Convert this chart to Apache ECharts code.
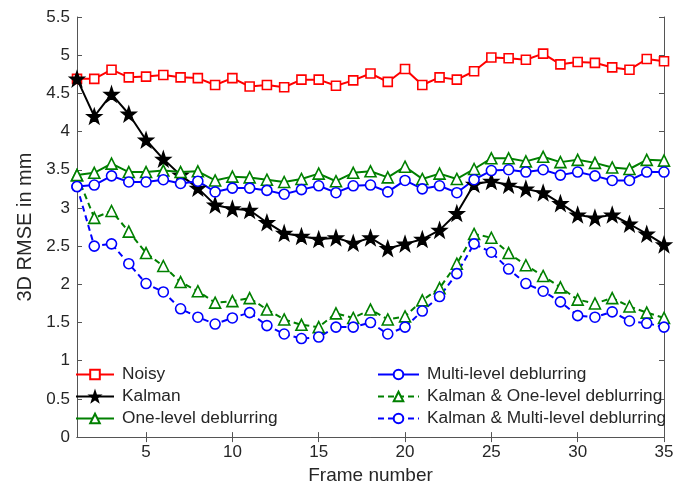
<!DOCTYPE html>
<html><head><meta charset="utf-8">
<script src="https://cdn.jsdelivr.net/npm/echarts@6/dist/echarts.min.js"></script>
<style>html,body{margin:0;padding:0;background:#fff}#c{width:687px;height:490px}</style>
</head><body><div id="c"></div>
<script>
const frames = [1,2,3,4,5,6,7,8,9,10,11,12,13,14,15,16,17,18,19,20,21,22,23,24,25,26,27,28,29,30,31,32,33,34,35];
const noisy = [4.69,4.69,4.81,4.71,4.72,4.74,4.71,4.70,4.61,4.70,4.59,4.61,4.58,4.68,4.68,4.60,4.67,4.76,4.65,4.82,4.61,4.71,4.68,4.79,4.97,4.96,4.94,5.02,4.88,4.91,4.90,4.84,4.81,4.95,4.92];
const kalman = [4.69,4.20,4.49,4.23,3.89,3.64,3.43,3.26,3.04,2.99,2.97,2.81,2.67,2.63,2.59,2.61,2.54,2.61,2.47,2.53,2.59,2.71,2.93,3.31,3.35,3.30,3.25,3.20,3.06,2.91,2.87,2.91,2.79,2.66,2.52];
const oneLevel = [3.43,3.46,3.58,3.47,3.47,3.49,3.47,3.48,3.36,3.41,3.40,3.37,3.34,3.38,3.45,3.35,3.46,3.48,3.40,3.54,3.38,3.45,3.38,3.51,3.65,3.65,3.61,3.67,3.60,3.63,3.59,3.53,3.51,3.63,3.62];
const multiLevel = [3.28,3.30,3.42,3.34,3.34,3.37,3.32,3.35,3.21,3.26,3.26,3.23,3.18,3.24,3.29,3.20,3.29,3.30,3.21,3.36,3.25,3.29,3.20,3.37,3.49,3.50,3.47,3.50,3.43,3.47,3.42,3.36,3.36,3.47,3.47];
const kalmanOne = [3.43,2.87,2.96,2.69,2.41,2.24,2.03,1.91,1.76,1.78,1.82,1.67,1.54,1.47,1.44,1.62,1.56,1.67,1.54,1.58,1.79,1.95,2.27,2.66,2.61,2.41,2.25,2.11,1.96,1.80,1.75,1.82,1.71,1.63,1.56];
const kalmanMulti = [3.28,2.50,2.53,2.27,2.01,1.90,1.68,1.57,1.48,1.56,1.63,1.46,1.35,1.29,1.31,1.44,1.44,1.50,1.35,1.44,1.65,1.84,2.14,2.53,2.42,2.20,2.01,1.91,1.77,1.59,1.57,1.64,1.52,1.49,1.44];
const xTicks = [5,10,15,20,25,30,35];
const names = ['Noisy','Kalman','One-level deblurring','Multi-level deblurring','Kalman & One-level deblurring','Kalman & Multi-level deblurring'];

const pair = arr => frames.map((f,i)=>[f,arr[i]]);
const FONT = 'Liberation Sans, Arial, sans-serif';
const TXT = '#262626';
const AX = '#555';

function mk(name, arr, color, symbol, size, dashed, fill){
  return {
    name, type:'line', data:pair(arr), symbol, symbolSize:size,
    showAllSymbol:true, clip:false,
    lineStyle:{color, width:2, type: dashed ? [6,4] : 'solid'},
    itemStyle:{color: fill ? color : '#fff', borderColor:color, borderWidth:1.6},
    emphasis:{disabled:true}, animation:false, z: 2
  };
}

const chart = echarts.init(document.getElementById('c'), null, {renderer:'canvas'});
const baseX = {type:'value', min:1, max:35, gridIndex:0,
  axisLine:{show:true, lineStyle:{color:AX, width:1}}, splitLine:{show:false}};
const baseY = {type:'value', min:0, max:5.5, interval:0.5, gridIndex:0,
  axisLine:{show:true, lineStyle:{color:AX, width:1}}, splitLine:{show:false}};
const legText = {fontFamily:FONT, fontSize:17.3, color:TXT, padding:[0,0,0,3]};
chart.setOption({
  backgroundColor:'#fff',
  animation:false,
  grid:{left:77, right:23, top:17, bottom:46, containLabel:false},
  xAxis:[
    Object.assign({}, baseX, {position:'bottom',
      name:'Frame number', nameLocation:'middle', nameGap:26,
      nameTextStyle:{fontFamily:FONT, fontSize:19, color:TXT},
      axisTick:{show:true, inside:true, length:5, customValues:xTicks, lineStyle:{color:AX}},
      axisLabel:{show:true, customValues:xTicks, fontFamily:FONT, fontSize:17, color:TXT, margin:7}}),
    Object.assign({}, baseX, {position:'top',
      axisTick:{show:true, inside:true, length:5, customValues:xTicks, lineStyle:{color:AX}},
      axisLabel:{show:false}})
  ],
  yAxis:[
    Object.assign({}, baseY, {position:'left',
      name:'3D RMSE in mm', nameLocation:'middle', nameGap:38,
      nameTextStyle:{fontFamily:FONT, fontSize:20, color:TXT},
      axisTick:{show:true, inside:true, length:5, lineStyle:{color:AX}},
      axisLabel:{show:true, fontFamily:FONT, fontSize:17, color:TXT, margin:7}}),
    Object.assign({}, baseY, {position:'right',
      axisTick:{show:true, inside:true, length:5, lineStyle:{color:AX}},
      axisLabel:{show:false}})
  ],
  legend:[
    {data:names.slice(0,3), orient:'vertical', left:70, top:361, itemWidth:38, itemHeight:12, itemGap:5,
     textStyle:legText, selectedMode:false},
    {data:names.slice(3), orient:'vertical', left:372, top:361, itemWidth:41, itemHeight:12, itemGap:5,
     textStyle:legText, selectedMode:false}
  ],
  series:[
    mk(names[0], noisy, '#ff0000', 'rect', 9, false, false),
    mk(names[1], kalman, '#000000', 'path://M0,-10 L2.35,-3.24 L9.51,-3.09 L3.8,1.24 L5.88,8.09 L0,4 L-5.88,8.09 L-3.8,1.24 L-9.51,-3.09 L-2.35,-3.24 Z', 14, false, true),
    mk(names[2], oneLevel, '#008000', 'triangle', 11, false, false),
    mk(names[3], multiLevel, '#0000ff', 'circle', 10, false, false),
    mk(names[4], kalmanOne, '#008000', 'triangle', 11, true, false),
    mk(names[5], kalmanMulti, '#0000ff', 'circle', 10, true, false)
  ]
});
</script></body></html>
